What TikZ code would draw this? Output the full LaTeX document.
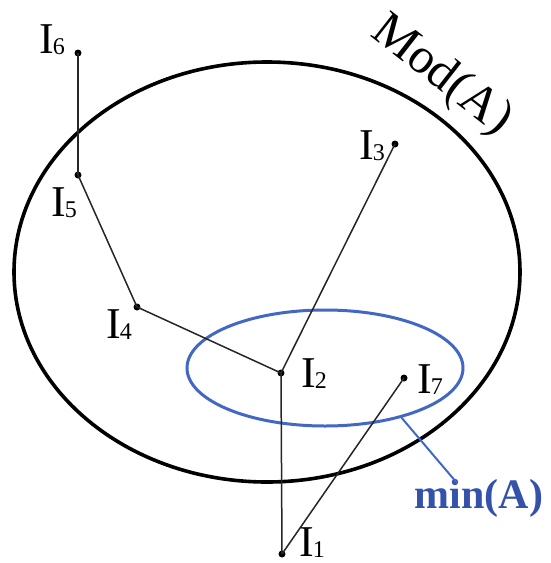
\documentclass[tikz,border=0pt]{standalone}
\usepackage{fontspec}
\setmainfont{Liberation Serif}
\usetikzlibrary{shapes.geometric}
\definecolor{setblue}{RGB}{66,104,196}
\definecolor{textblue}{RGB}{52,82,170}
\newcommand\ilab[1]{I\kern-1pt\raisebox{-1pt}{\fontsize{24}{24}\selectfont #1}}
\begin{document}
\begin{tikzpicture}[x=1pt,y=-1pt,
  dot/.style={circle,fill=black,inner sep=0pt,minimum size=7pt},
  edge/.style={line width=1.5pt,black!85},
  lab/.style={font=\fontsize{44}{46}\selectfont,inner sep=0pt},
  setline/.style={ellipse,draw,inner sep=0pt}]
\useasboundingbox (0,0) rectangle (550,563);
\node[setline,line width=3.6pt,minimum width=506pt,minimum height=420pt] (mod) at (267,272) {};
\node[setline,draw=setblue,line width=3pt,minimum width=276pt,minimum height=116pt] (minset) at (325,368) {};
\node[dot] (i6) at (78,53) {};
\node[dot] (i5) at (78,175) {};
\node[dot] (i4) at (137,307) {};
\node[dot] (i2) at (281,373) {};
\node[dot] (i3) at (395,144) {};
\node[dot] (i7) at (404,378) {};
\node[dot] (i1) at (282,554) {};
\draw[edge] (i6.center) -- (i5.center);
\draw[edge] (i5.center) -- (i4.center);
\draw[edge] (i4.center) -- (i2.center);
\draw[edge] (i2.center) -- (i3.center);
\draw[edge] (i2.center) -- (i1.center);
\draw[edge] (i1.center) -- (i7.center);
\node[lab] (l6) at (52,40) {\ilab{6}};
\node[lab] (l5) at (64,203) {\ilab{5}};
\node[lab] (l4) at (119,325) {\ilab{4}};
\node[lab] (l2) at (314,374) {\ilab{2}};
\node[lab] (l3) at (372,146) {\ilab{3}};
\node[lab] (l7) at (430,380) {\ilab{7}};
\node[lab] (l1) at (312,543) {\ilab{1}};
\node[font=\fontsize{50}{52}\selectfont,rotate=-38,inner sep=0pt] (modlab) at (441,76) {Mod(A)};
\node[font=\fontsize{42}{44}\selectfont\bfseries,text=textblue,inner sep=0pt] (minlab) at (479,498) {min(A)};
\coordinate (minend) at (457,483);
\draw[setblue,line width=2pt] (minset.-33) -- (minend);
\end{tikzpicture}
\end{document}
